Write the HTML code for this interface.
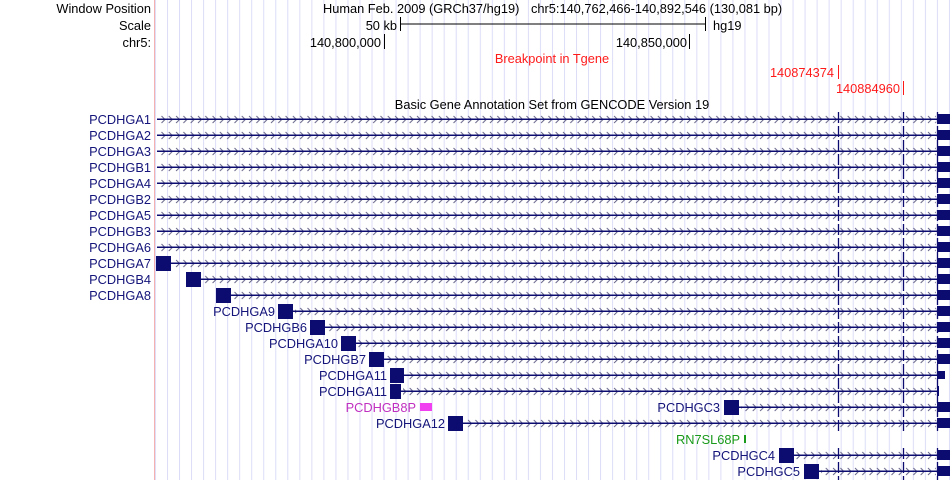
<!DOCTYPE html>
<html><head><meta charset="utf-8"><style>
html,body{margin:0;padding:0;background:#fff;}
svg{display:block;font-family:"Liberation Sans",sans-serif;}
</style></head><body>
<svg width="950" height="480" viewBox="0 0 950 480" xmlns="http://www.w3.org/2000/svg">
<defs>
<pattern id="grid" x="167" y="0" width="12.03" height="10" patternUnits="userSpaceOnUse">
<rect x="0" y="0" width="1" height="10" fill="#dcdcf8"/>
</pattern>
<pattern id="chev" x="160" y="115" width="7.3" height="16" patternUnits="userSpaceOnUse">
<path d="M1.5 1 L5 4.5 L1.5 8" fill="none" stroke="#66668a" stroke-width="1"/>
</pattern>
</defs>
<rect x="155" y="0" width="795" height="480" fill="url(#grid)"/>
<rect x="154" y="0" width="1" height="480" fill="#f5b0b0"/>

<g font-size="12.8" fill="#000">
<text x="151" y="13" text-anchor="end">Window Position</text>
<text x="151" y="30" text-anchor="end">Scale</text>
<text x="151" y="47" text-anchor="end">chr5:</text>
<text x="323" y="13">Human Feb. 2009 (GRCh37/hg19)</text>
<text x="531" y="13">chr5:140,762,466-140,892,546 (130,081 bp)</text>
<text x="397" y="30" text-anchor="end">50 kb</text>
<text x="713" y="30">hg19</text>
<text x="381" y="47" text-anchor="end">140,800,000</text>
<text x="687" y="47" text-anchor="end">140,850,000</text>
<text x="552" y="109" text-anchor="middle">Basic Gene Annotation Set from GENCODE Version 19</text>
</g>
<rect x="400" y="17" width="1" height="14" fill="#000"/>
<rect x="705" y="17" width="1" height="14" fill="#000"/>
<rect x="400" y="23.5" width="305" height="1" fill="#000"/>
<rect x="384" y="34" width="1" height="15" fill="#000"/>
<rect x="689" y="34" width="1" height="15" fill="#000"/>

<g font-size="12.8" fill="#ff1a1a">
<text x="552" y="63" text-anchor="middle">Breakpoint in Tgene</text>
<text x="834" y="77" text-anchor="end">140874374</text>
<text x="900" y="93" text-anchor="end">140884960</text>
</g>
<rect x="838" y="65" width="1" height="14" fill="#ff1a1a"/>
<rect x="903" y="81" width="1" height="14" fill="#ff1a1a"/>

<g fill="url(#chev)">
<rect x="160" y="115" width="776" height="9"/>
<rect x="160" y="131" width="776" height="9"/>
<rect x="160" y="147" width="776" height="9"/>
<rect x="160" y="163" width="776" height="9"/>
<rect x="160" y="179" width="776" height="9"/>
<rect x="160" y="195" width="776" height="9"/>
<rect x="160" y="211" width="776" height="9"/>
<rect x="160" y="227" width="776" height="9"/>
<rect x="160" y="243" width="776" height="9"/>
<rect x="173" y="259" width="763" height="9"/>
<rect x="203" y="275" width="733" height="9"/>
<rect x="233" y="291" width="703" height="9"/>
<rect x="295" y="307" width="641" height="9"/>
<rect x="327" y="323" width="609" height="9"/>
<rect x="358" y="339" width="578" height="9"/>
<rect x="386" y="355" width="550" height="9"/>
<rect x="406" y="371" width="530" height="9"/>
<rect x="403" y="387" width="533" height="9"/>
<rect x="741" y="403" width="195" height="9"/>
<rect x="465" y="419" width="471" height="9"/>
<rect x="796" y="451" width="140" height="9"/>
<rect x="821" y="467" width="115" height="9"/>
</g>
<g fill="#0c0c70">
<rect x="157" y="118.5" width="780" height="1.5"/>
<rect x="157" y="134.5" width="780" height="1.5"/>
<rect x="157" y="150.5" width="780" height="1.5"/>
<rect x="157" y="166.5" width="780" height="1.5"/>
<rect x="157" y="182.5" width="780" height="1.5"/>
<rect x="157" y="198.5" width="780" height="1.5"/>
<rect x="157" y="214.5" width="780" height="1.5"/>
<rect x="157" y="230.5" width="780" height="1.5"/>
<rect x="157" y="246.5" width="780" height="1.5"/>
<rect x="171" y="262.5" width="766" height="1.5"/>
<rect x="201" y="278.5" width="736" height="1.5"/>
<rect x="231" y="294.5" width="706" height="1.5"/>
<rect x="293" y="310.5" width="644" height="1.5"/>
<rect x="325" y="326.5" width="612" height="1.5"/>
<rect x="356" y="342.5" width="581" height="1.5"/>
<rect x="384" y="358.5" width="553" height="1.5"/>
<rect x="404" y="374.5" width="533" height="1.5"/>
<rect x="401" y="390.5" width="537" height="1.5"/>
<rect x="739" y="406.5" width="198" height="1.5"/>
<rect x="463" y="422.5" width="474" height="1.5"/>
<rect x="794" y="454.5" width="143" height="1.5"/>
<rect x="819" y="470.5" width="118" height="1.5"/>
</g>
<g fill="#0c0c70">
<rect x="156" y="256" width="15" height="15"/>
<rect x="186" y="272" width="15" height="15"/>
<rect x="216" y="288" width="15" height="15"/>
<rect x="278" y="304" width="15" height="15"/>
<rect x="310" y="320" width="15" height="15"/>
<rect x="341" y="336" width="15" height="15"/>
<rect x="369" y="352" width="15" height="15"/>
<rect x="390" y="368" width="14" height="15"/>
<rect x="390" y="384" width="11" height="15"/>
<rect x="448" y="416" width="15" height="15"/>
<rect x="724" y="400" width="15" height="15"/>
<rect x="779" y="448" width="15" height="15"/>
<rect x="804" y="464" width="15" height="15"/>
</g>
<g fill="#0c0c70">
<rect x="937" y="114" width="13" height="10"/>
<rect x="937" y="130" width="13" height="10"/>
<rect x="937" y="146" width="13" height="10"/>
<rect x="937" y="162" width="13" height="10"/>
<rect x="937" y="178" width="13" height="10"/>
<rect x="937" y="194" width="13" height="10"/>
<rect x="937" y="210" width="13" height="10"/>
<rect x="937" y="226" width="13" height="10"/>
<rect x="937" y="242" width="13" height="10"/>
<rect x="937" y="258" width="13" height="10"/>
<rect x="937" y="274" width="13" height="10"/>
<rect x="937" y="290" width="13" height="10"/>
<rect x="937" y="306" width="13" height="10"/>
<rect x="937" y="322" width="13" height="10"/>
<rect x="937" y="338" width="13" height="10"/>
<rect x="937" y="354" width="13" height="10"/>
<rect x="937" y="371" width="8" height="8"/>
<rect x="937" y="386" width="2" height="10"/>
<rect x="937" y="402" width="13" height="10"/>
<rect x="937" y="418" width="13" height="10"/>
<rect x="937" y="450" width="13" height="10"/>
<rect x="937" y="466" width="13" height="10"/>
</g>
<rect x="420" y="403" width="12" height="8" fill="#f040f0"/>
<rect x="744" y="435" width="2" height="8" fill="#1a9a1a"/>
<g stroke="#0c0c70" stroke-width="1.3" stroke-dasharray="11,3">
<line x1="838.5" y1="112" x2="838.5" y2="431"/>
<line x1="903.5" y1="112" x2="903.5" y2="431"/>
<line x1="937.5" y1="112" x2="937.5" y2="431"/>
<line x1="838.5" y1="448" x2="838.5" y2="480"/>
<line x1="903.5" y1="448" x2="903.5" y2="480"/>
<line x1="937.5" y1="448" x2="937.5" y2="480"/>
</g>
<g font-size="12.8" fill="#14147a" text-anchor="end">
<text x="151" y="124">PCDHGA1</text>
<text x="151" y="140">PCDHGA2</text>
<text x="151" y="156">PCDHGA3</text>
<text x="151" y="172">PCDHGB1</text>
<text x="151" y="188">PCDHGA4</text>
<text x="151" y="204">PCDHGB2</text>
<text x="151" y="220">PCDHGA5</text>
<text x="151" y="236">PCDHGB3</text>
<text x="151" y="252">PCDHGA6</text>
<text x="151" y="268">PCDHGA7</text>
<text x="151" y="284">PCDHGB4</text>
<text x="151" y="300">PCDHGA8</text>
<text x="275" y="316">PCDHGA9</text>
<text x="307" y="332">PCDHGB6</text>
<text x="338" y="348">PCDHGA10</text>
<text x="366" y="364">PCDHGB7</text>
<text x="387" y="380">PCDHGA11</text>
<text x="387" y="396">PCDHGA11</text>
<text x="445" y="428">PCDHGA12</text>
<text x="720" y="412">PCDHGC3</text>
<text x="775" y="460">PCDHGC4</text>
<text x="800" y="476">PCDHGC5</text>
<text x="416" y="412" fill="#c030c0">PCDHGB8P</text>
<text x="740" y="444" fill="#1a9a1a">RN7SL68P</text>
</g>
</svg>
</body></html>
